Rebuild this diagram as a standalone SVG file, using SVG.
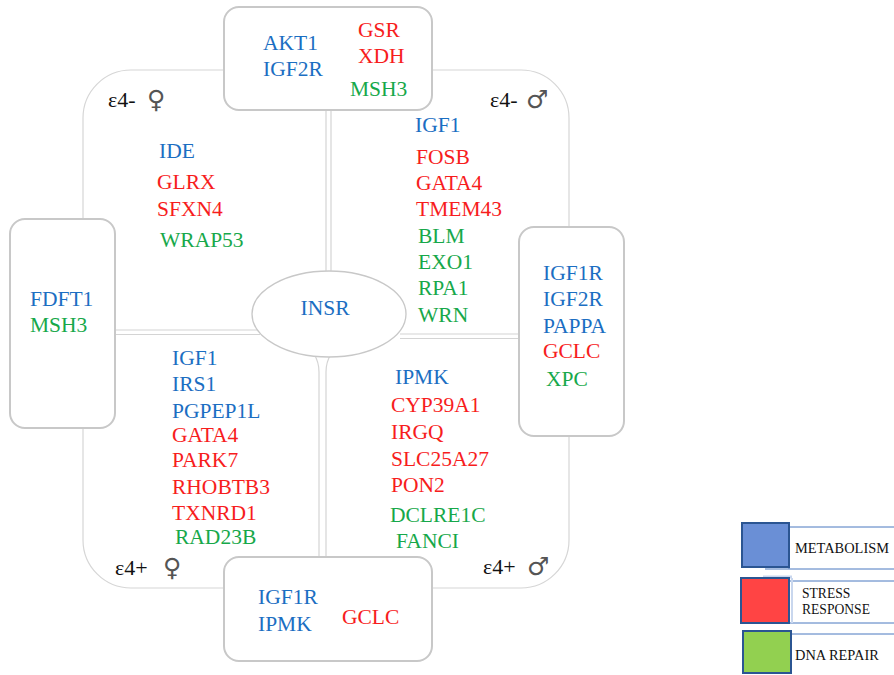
<svg xmlns="http://www.w3.org/2000/svg" width="894" height="675" viewBox="0 0 894 675">
<style>
  text { font-family: "Liberation Serif", "Times New Roman", serif; font-size: 21.5px; }
  .b { fill: #1b6ec2; }
  .r { fill: #f71d1d; }
  .g { fill: #17a84a; }
  .q { fill: #111; font-size: 22px; }
  .sym { font-family: "DejaVu Sans", sans-serif; font-size: 25px; fill: #555; }
  .lg { fill: #111; font-size: 14.4px; }
  .lg2 { fill: #111; font-size: 13.6px; }
  .frame { fill: none; stroke: #d6d6d6; stroke-width: 1.2; }
  .box { fill: #fff; stroke: #c8c8c8; stroke-width: 2; }
  .ch { fill: none; stroke: #d4d4d4; stroke-width: 1.2; }
  .leg { stroke: #2b5592; stroke-width: 2; }
  .legline { stroke: #4a78c0; stroke-width: 1; }
</style>
<rect width="894" height="675" fill="#fff"/>
<g id="frame">
  <rect class="frame" x="83" y="70" width="486" height="518" rx="48" ry="48"/>
</g>
<g id="connectors">
  <line class="ch" x1="326" y1="110" x2="326" y2="280"/>
  <line class="ch" x1="331" y1="110" x2="331" y2="280"/>
  <line class="ch" x1="115" y1="330" x2="260" y2="330"/>
  <line class="ch" x1="115" y1="334.5" x2="260" y2="334.5"/>
  <line class="ch" x1="400" y1="334" x2="519" y2="334"/>
  <line class="ch" x1="400" y1="338.5" x2="519" y2="338.5"/>
  <path class="ch" d="M319 557 L319 372 Q319 362 314 354"/>
  <path class="ch" d="M326 557 L326 372 Q326 362 331 354"/>
</g>
<g id="INSR">
  <ellipse cx="329" cy="314" rx="77" ry="43" fill="#fff" stroke="#c8c8c8" stroke-width="1.3"/>
  <text class="b" x="325" y="315" text-anchor="middle">INSR</text>
</g>
<g id="top-box">
  <rect class="box" x="224" y="7" width="208" height="103" rx="15"/>
  <text class="b" x="263" y="50">AKT1</text>
  <text class="b" x="263" y="76">IGF2R</text>
  <text class="r" x="358" y="37">GSR</text>
  <text class="r" x="358" y="63">XDH</text>
  <text class="g" x="350" y="96">MSH3</text>
</g>
<g id="left-box">
  <rect class="box" x="10" y="219" width="105" height="209" rx="15"/>
  <text class="b" x="30" y="306">FDFT1</text>
  <text class="g" x="30" y="332">MSH3</text>
</g>
<g id="right-box">
  <rect class="box" x="519" y="227" width="105" height="209" rx="15"/>
  <text class="b" x="543" y="280">IGF1R</text>
  <text class="b" x="543" y="306">IGF2R</text>
  <text class="b" x="543" y="333">PAPPA</text>
  <text class="r" x="543" y="358">GCLC</text>
  <text class="g" x="546" y="386">XPC</text>
</g>
<g id="bottom-box">
  <rect class="box" x="224" y="557" width="208" height="104" rx="15"/>
  <text class="b" x="258" y="604">IGF1R</text>
  <text class="b" x="258" y="631">IPMK</text>
  <text class="r" x="342" y="624">GCLC</text>
</g>
<g id="q-e4minus-female">
  <text class="q" x="108" y="107">ε4- <tspan class="sym" x="147" y="108">♀</tspan></text>
  <text class="b" x="159" y="158">IDE</text>
  <text class="r" x="157" y="189">GLRX</text>
  <text class="r" x="157" y="216">SFXN4</text>
  <text class="g" x="160" y="247">WRAP53</text>
</g>
<g id="q-e4minus-male">
  <text class="q" x="490" y="107">ε4- <tspan class="sym" x="526" y="108">♂</tspan></text>
  <text class="b" x="415" y="132">IGF1</text>
  <text class="r" x="416" y="164">FOSB</text>
  <text class="r" x="416" y="190">GATA4</text>
  <text class="r" x="416" y="216">TMEM43</text>
  <text class="g" x="418" y="243">BLM</text>
  <text class="g" x="418" y="269">EXO1</text>
  <text class="g" x="418" y="295">RPA1</text>
  <text class="g" x="418" y="322">WRN</text>
</g>
<g id="q-e4plus-female">
  <text class="q" x="115" y="575">ε4+ <tspan class="sym" x="163" y="576">♀</tspan></text>
  <text class="b" x="172" y="365">IGF1</text>
  <text class="b" x="172" y="391">IRS1</text>
  <text class="b" x="172" y="418">PGPEP1L</text>
  <text class="r" x="172" y="442">GATA4</text>
  <text class="r" x="172" y="467">PARK7</text>
  <text class="r" x="172" y="494">RHOBTB3</text>
  <text class="r" x="172" y="520">TXNRD1</text>
  <text class="g" x="175" y="544">RAD23B</text>
</g>
<g id="q-e4plus-male">
  <text class="q" x="483" y="574">ε4+ <tspan class="sym" x="527" y="575">♂</tspan></text>
  <text class="b" x="395" y="384">IPMK</text>
  <text class="r" x="391" y="412">CYP39A1</text>
  <text class="r" x="391" y="439">IRGQ</text>
  <text class="r" x="391" y="466">SLC25A27</text>
  <text class="r" x="391" y="492">PON2</text>
  <text class="g" x="390" y="522">DCLRE1C</text>
  <text class="g" x="396" y="548">FANCI</text>
</g>
<g id="legend">
  <line class="legline" x1="789" y1="527" x2="894" y2="527"/>
  <line class="legline" x1="765" y1="569" x2="894" y2="569"/>
  <line class="legline" x1="789" y1="527" x2="789" y2="569"/>
  <rect class="leg" x="742" y="523" width="47" height="44" fill="#6a8fd6"/>
  <text class="lg" x="795" y="553">METABOLISM</text>
  <line class="legline" x1="789" y1="581" x2="894" y2="581"/>
  <line class="legline" x1="789" y1="623" x2="894" y2="623"/>
  <line stroke="#c9d7ee" stroke-width="3" x1="763" y1="577" x2="792" y2="577"/>
  <line stroke="#c9d7ee" stroke-width="2" x1="792" y1="578" x2="792" y2="623"/>
  <rect class="leg" x="741" y="578" width="48" height="45" fill="#ff4444"/>
  <text class="lg2" x="802" y="598">STRESS</text>
  <text class="lg2" x="802" y="614">RESPONSE</text>
  <line class="legline" x1="791" y1="634" x2="894" y2="634"/>
  <rect class="leg" x="743" y="631" width="48" height="42" fill="#92d050"/>
  <text class="lg" x="795" y="660">DNA REPAIR</text>
</g>
</svg>
